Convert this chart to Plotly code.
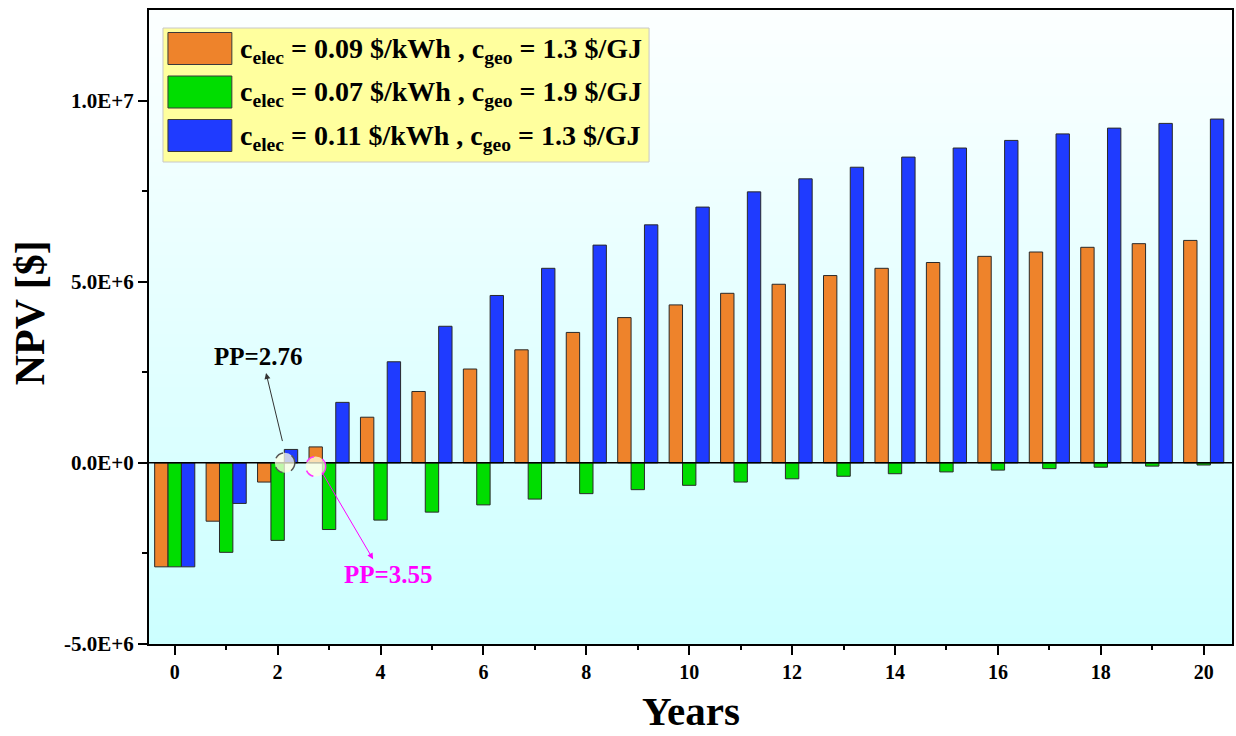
import plotly.graph_objects as go

# Project years and net present value (USD) for three price scenarios
years = list(range(0, 21))

npv_elec009_geo13 = [-2.87e6, -1.61e6, -0.53e6, 0.44e6, 1.26e6, 1.97e6, 2.59e6, 3.12e6,
                     3.60e6, 4.01e6, 4.36e6, 4.68e6, 4.93e6, 5.17e6, 5.37e6, 5.53e6,
                     5.70e6, 5.82e6, 5.95e6, 6.05e6, 6.14e6]
npv_elec007_geo19 = [-2.87e6, -2.47e6, -2.14e6, -1.84e6, -1.58e6, -1.36e6, -1.16e6, -1.00e6,
                     -0.85e6, -0.74e6, -0.62e6, -0.53e6, -0.44e6, -0.37e6, -0.30e6, -0.25e6,
                     -0.20e6, -0.16e6, -0.12e6, -0.09e6, -0.06e6]
npv_elec011_geo13 = [-2.87e6, -1.12e6, 0.37e6, 1.67e6, 2.79e6, 3.77e6, 4.62e6, 5.37e6,
                     6.01e6, 6.57e6, 7.06e6, 7.48e6, 7.84e6, 8.16e6, 8.44e6, 8.69e6,
                     8.90e6, 9.08e6, 9.24e6, 9.37e6, 9.49e6]

series_names = [
    "c<sub>elec</sub> = 0.09 $/kWh , c<sub>geo</sub> = 1.3 $/GJ",
    "c<sub>elec</sub> = 0.07 $/kWh , c<sub>geo</sub> = 1.9 $/GJ",
    "c<sub>elec</sub> = 0.11 $/kWh , c<sub>geo</sub> = 1.3 $/GJ",
]
series_colors = ["#EE832B", "#00DD00", "#1F3BFF"]
series_values = [npv_elec009_geo13, npv_elec007_geo19, npv_elec011_geo13]

y_tickvals = [-5e6, 0, 5e6, 1e7]
y_ticktext = ["-5.0E+6", "0.0E+0", "5.0E+6", "1.0E+7"]
x_tickvals = list(range(0, 21, 2))

# payback-period markers: (year, label)
pp_blue = (2.14, "PP=2.76")
pp_orange = (2.74, "PP=3.55")

X_RANGE = [-0.5, 20.55]
Y_RANGE = [-5e6, 1.25e7]

W, H = 1236, 736
M_L, M_R, M_T, M_B = 149, 2, 10, 92
PLOT_W = W - M_L - M_R
PLOT_H = H - M_T - M_B


def px_x(px):
    return (px - M_L) / PLOT_W


def px_y(py):
    return (H - M_B - py) / PLOT_H


FONT = "Liberation Serif, Times New Roman, serif"

fig = go.Figure()

# vertical white-to-cyan background wash
fig.add_trace(go.Heatmap(
    x=X_RANGE, y=Y_RANGE, z=[[1, 1], [0, 0]],
    colorscale=[[0, "#FCFFFF"], [1, "#CCFFFF"]],
    zsmooth="best", showscale=False, hoverinfo="skip",
))

for name, color, vals in zip(series_names, series_colors, series_values):
    fig.add_trace(go.Bar(
        x=years, y=vals, name=name,
        marker=dict(color=color, line=dict(color="#2a2a2a", width=1)),
        showlegend=False,
    ))

shapes = []
# zero reference line
shapes.append(dict(type="line", xref="paper", yref="y", x0=0, x1=1, y0=0, y1=0,
                   line=dict(color="black", width=1.5), layer="above"))
# payback circles
shapes.append(dict(type="circle", xref="x", yref="y", xsizemode="pixel", ysizemode="pixel",
                   xanchor=pp_blue[0], yanchor=0, x0=-10, x1=10, y0=-10, y1=10,
                   fillcolor="rgba(255,255,225,0.75)",
                   line=dict(color="#555555", width=1.5, dash="dash"), layer="above"))
shapes.append(dict(type="circle", xref="x", yref="y", xsizemode="pixel", ysizemode="pixel",
                   xanchor=pp_orange[0], yanchor=-0.1e6, x0=-10, x1=10, y0=-10, y1=10,
                   fillcolor="rgba(255,255,225,0.75)",
                   line=dict(color="#FF33FF", width=1.5, dash="dash"), layer="above"))

# legend box with large swatches
shapes.append(dict(type="rect", xref="paper", yref="paper",
                   x0=px_x(163), x1=px_x(650), y0=px_y(162), y1=px_y(28),
                   fillcolor="#FFFF9E", line=dict(color="#C8C8C8", width=1), layer="above"))
row_centers = [48.5, 92, 135.5]
for yc, color in zip(row_centers, series_colors):
    shapes.append(dict(type="rect", xref="paper", yref="paper",
                       x0=px_x(168), x1=px_x(232), y0=px_y(yc + 16), y1=px_y(yc - 16),
                       fillcolor=color, line=dict(color="#3a3a3a", width=1), layer="above"))

annotations = []
for yc, name in zip(row_centers, series_names):
    annotations.append(dict(
        xref="paper", yref="paper", x=px_x(238), y=px_y(yc + 2),
        xanchor="left", yanchor="middle", text=name, showarrow=False,
        font=dict(family=FONT, size=28, color="black", weight="bold"),
    ))

# payback arrows and labels
annotations.append(dict(x=1.775, y=2.48e6, ax=2.10, ay=0.56e6, xref="x", yref="y",
                        axref="x", ayref="y", text="", showarrow=True,
                        arrowhead=2, arrowsize=1.2, arrowwidth=1, arrowcolor="#333333"))
annotations.append(dict(x=1.62, y=2.93e6, xref="x", yref="y", text=pp_blue[1],
                        showarrow=False, xanchor="center", yanchor="middle",
                        font=dict(family=FONT, size=25, color="black", weight="bold")))
annotations.append(dict(x=3.855, y=-2.66e6, ax=2.85, ay=-0.23e6, xref="x", yref="y",
                        axref="x", ayref="y", text="", showarrow=True,
                        arrowhead=2, arrowsize=1.2, arrowwidth=1, arrowcolor="#FF00FF"))
annotations.append(dict(x=4.15, y=-3.07e6, xref="x", yref="y", text=pp_orange[1],
                        showarrow=False, xanchor="center", yanchor="middle",
                        font=dict(family=FONT, size=25, color="#FF00FF", weight="bold")))

# axis titles
annotations.append(dict(xref="paper", yref="paper", x=px_x(30), y=px_y(313),
                        text="NPV [$]", textangle=-90, showarrow=False,
                        xanchor="center", yanchor="middle",
                        font=dict(family=FONT, size=42, color="black", weight="bold")))
annotations.append(dict(xref="paper", yref="paper", x=px_x(692), y=px_y(711),
                        text="Years", showarrow=False,
                        xanchor="center", yanchor="middle",
                        font=dict(family=FONT, size=41, color="black", weight="bold")))

fig.update_layout(
    width=W, height=H,
    margin=dict(l=M_L, r=M_R, t=M_T, b=M_B, pad=0),
    paper_bgcolor="white", plot_bgcolor="#E6FFFF",
    barmode="group", bargap=0.22, bargroupgap=0,
    font=dict(family=FONT, color="black"),
    shapes=shapes, annotations=annotations,
    xaxis=dict(range=X_RANGE, tickmode="array", tickvals=x_tickvals,
               ticks="outside", ticklen=9, tickwidth=2, tickcolor="black",
               minor=dict(dtick=1, tick0=0, ticks="outside", ticklen=4, tickwidth=2, tickcolor="black"),
               showline=True, linecolor="black", linewidth=2, mirror=True,
               showgrid=False, zeroline=False,
               tickfont=dict(family=FONT, size=20, weight="bold")),
    yaxis=dict(range=Y_RANGE, tickmode="array", tickvals=y_tickvals, ticktext=y_ticktext,
               ticks="outside", ticklen=9, tickwidth=2, tickcolor="black",
               minor=dict(tickvals=[-2.5e6, 2.5e6, 7.5e6], ticks="outside", ticklen=5,
                          tickwidth=2, tickcolor="black"),
               showline=True, linecolor="black", linewidth=2, mirror=True,
               showgrid=False, zeroline=False,
               tickfont=dict(family=FONT, size=21, weight="bold")),
)

fig.write_html("out.html")
